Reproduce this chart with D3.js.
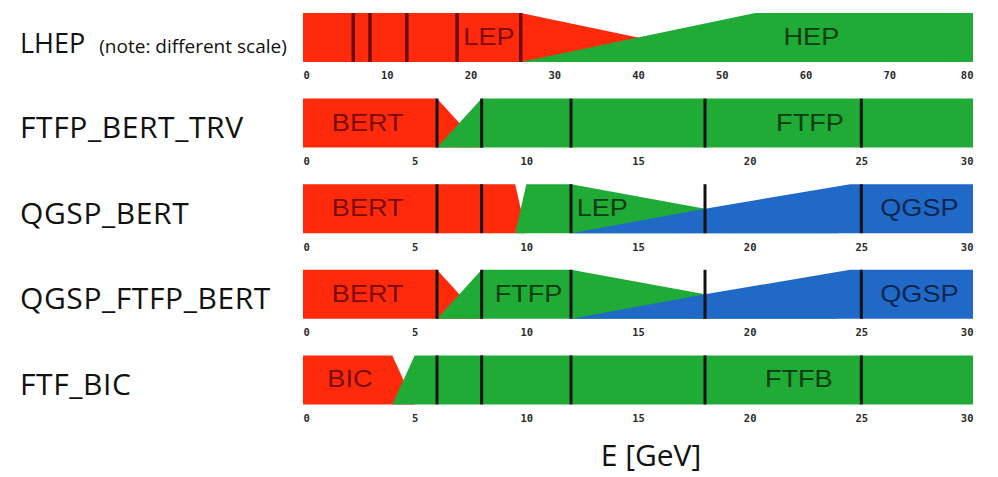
<!DOCTYPE html>
<html>
<head>
<meta charset="utf-8">
<script src="https://cdn.jsdelivr.net/npm/d3@7"></script>
<style>
  html, body { margin: 0; padding: 0; background: #fff; }
  svg { display: block; }
</style>
</head>
<body>
<svg id="chart" width="998" height="477"></svg>
<script>
// ---------------- DATA ----------------
const physicsLists = ["LHEP", "FTFP_BERT_TRV", "QGSP_BERT", "QGSP_FTFP_BERT", "FTF_BIC"];
const listNotes = ["(note: different scale)", "", "", "", ""];
const energyMax = [80, 30, 30, 30, 30];
const lhepTicks = [0, 10, 20, 30, 40, 50, 60, 70, 80];
const standardTicks = [0, 5, 10, 15, 20, 25, 30];
const axisTitle = "E [GeV]";

// models in each list (drawn in order, later ones on top)
const lhepModels = ["LEP", "HEP"];
const ftfpBertTrvModels = ["BERT", "FTFP"];
const qgspBertModels = ["BERT", "LEP", "QGSP"];
const qgspFtfpBertModels = ["BERT", "FTFP", "QGSP"];
const ftfBicModels = ["BIC", "FTFB"];

// model colour family: 0 = red, 1 = green, 2 = blue
const lhepFamilies = [0, 1];
const ftfpBertTrvFamilies = [0, 1];
const qgspBertFamilies = [0, 1, 2];
const qgspFtfpBertFamilies = [0, 1, 2];
const ftfBicFamilies = [0, 1];

// weight of each model vs energy: [E (GeV), weight 0..1]
const lhepWeights = [
  [[0, 1], [26, 1], [54, 0]],
  [[26, 0], [54, 1], [80, 1]]
];
const ftfpBertTrvWeights = [
  [[0, 1], [6, 1], [8, 0]],
  [[6, 0], [8, 1], [30, 1]]
];
const qgspBertWeights = [
  [[0, 1], [9.5, 1], [10, 0]],
  [[9.5, 0], [10, 1], [12, 1], [24, 0]],
  [[12, 0], [18, 0.5], [24.5, 1], [30, 1]]
];
const qgspFtfpBertWeights = [
  [[0, 1], [6, 1], [8, 0]],
  [[6, 0], [8, 1], [12, 1], [24, 0]],
  [[12, 0], [18, 0.5], [24.5, 1], [30, 1]]
];
const ftfBicWeights = [
  [[0, 1], [4, 1], [5, 0]],
  [[4, 0], [5, 1], [30, 1]]
];

// energy at which each model's name is written
const lhepLabelE = [22.2, 60.7];
const ftfpBertTrvLabelE = [2.9, 22.7];
const qgspBertLabelE = [2.9, 13.4, 27.6];
const qgspFtfpBertLabelE = [2.9, 10.1, 27.6];
const ftfBicLabelE = [2.1, 22.2];

// vertical marker energies
const lhepMarkers = [6, 8, 12.4, 18.4, 26];
const standardMarkers = [6, 8, 12, 18, 25];

// ---------------- STYLE ----------------
const fills = ["#ff2a0c", "#1fab35", "#2169c6"];
const textCols = ["#7d0a04", "#0c3d12", "#0b2650"];

const rowsData = [
  { models: lhepModels, fam: lhepFamilies, w: lhepWeights, lab: lhepLabelE, marks: lhepMarkers, ticks: lhepTicks, markCol: "#6e0a05" },
  { models: ftfpBertTrvModels, fam: ftfpBertTrvFamilies, w: ftfpBertTrvWeights, lab: ftfpBertTrvLabelE, marks: standardMarkers, ticks: standardTicks, markCol: "#111" },
  { models: qgspBertModels, fam: qgspBertFamilies, w: qgspBertWeights, lab: qgspBertLabelE, marks: standardMarkers, ticks: standardTicks, markCol: "#111" },
  { models: qgspFtfpBertModels, fam: qgspFtfpBertFamilies, w: qgspFtfpBertWeights, lab: qgspFtfpBertLabelE, marks: standardMarkers, ticks: standardTicks, markCol: "#111" },
  { models: ftfBicModels, fam: ftfBicFamilies, w: ftfBicWeights, lab: ftfBicLabelE, marks: standardMarkers, ticks: standardTicks, markCol: "#111" }
];

// ---------------- LAYOUT ----------------
const svg = d3.select("#chart");
const plotLeft = 303, plotRight = 973;
const firstTop = 13, rowStep = 85.6, barH = 49;
const labelFont = "'Open Sans', Lato, sans-serif";

physicsLists.forEach((name, i) => {
  const r = rowsData[i];
  const top = firstTop + i * rowStep;
  const bottom = top + barH;
  const x = d3.scaleLinear().domain([0, energyMax[i]]).range([plotLeft, plotRight]);
  const y = d3.scaleLinear().domain([0, 1]).range([bottom, top]);
  const g = svg.append("g");

  const area = d3.area()
    .x(d => x(d[0]))
    .y0(bottom)
    .y1(d => y(d[1]));

  r.w.forEach((pts, k) => {
    g.append("path")
      .attr("d", area(pts))
      .attr("fill", fills[r.fam[k]]);
  });

  // model names
  r.models.forEach((m, k) => {
    g.append("text")
      .attr("transform", `translate(${x(r.lab[k])},${top + 32}) scale(1.13,1)`)
      .attr("text-anchor", "middle")
      .attr("font-family", "'Liberation Sans', Arial, sans-serif")
      .attr("font-size", 24)
      .attr("fill", textCols[r.fam[k]])
      .text(m);
  });

  // marker lines
  g.selectAll("line.mark").data(r.marks).enter().append("line")
    .attr("class", "mark")
    .attr("x1", d => x(d)).attr("x2", d => x(d))
    .attr("y1", top).attr("y2", bottom)
    .attr("stroke", r.markCol)
    .attr("stroke-width", i === 0 ? 3.5 : 3);

  // axis
  const ax = svg.append("g")
    .attr("transform", `translate(0,${bottom + 8})`)
    .call(d3.axisBottom(x).tickValues(r.ticks).tickSize(0).tickPadding(0).tickFormat(d3.format("d")));
  ax.select(".domain").remove();
  ax.selectAll("text")
    .attr("font-family", "'DejaVu Sans Mono', monospace")
    .attr("font-weight", "bold")
    .attr("font-size", 10.5)
    .attr("fill", "#2a2a2a")
    .attr("dy", "0.9em")
    .attr("text-anchor", (d, j, nodes) => j === 0 ? "start" : (j === nodes.length - 1 ? "end" : "middle"));

  // row label
  const lbl = svg.append("text")
    .attr("x", 20)
    .attr("y", top + barH / 2 + 15)
    .attr("font-family", labelFont)
    .attr("font-size", i === 0 ? 27 : 30)
    .attr("letter-spacing", i === 0 ? 0 : 0.6)
    .attr("fill", "#111")
    .text(name);
  if (listNotes[i]) {
    lbl.append("tspan")
      .attr("dx", 14)
      .attr("font-size", 19)
      .text(listNotes[i]);
  }
});

svg.append("text")
  .attr("x", 651)
  .attr("y", 466)
  .attr("text-anchor", "middle")
  .attr("font-family", labelFont)
  .attr("font-size", 30)
  .attr("fill", "#111")
  .text(axisTitle);
</script>
</body>
</html>
